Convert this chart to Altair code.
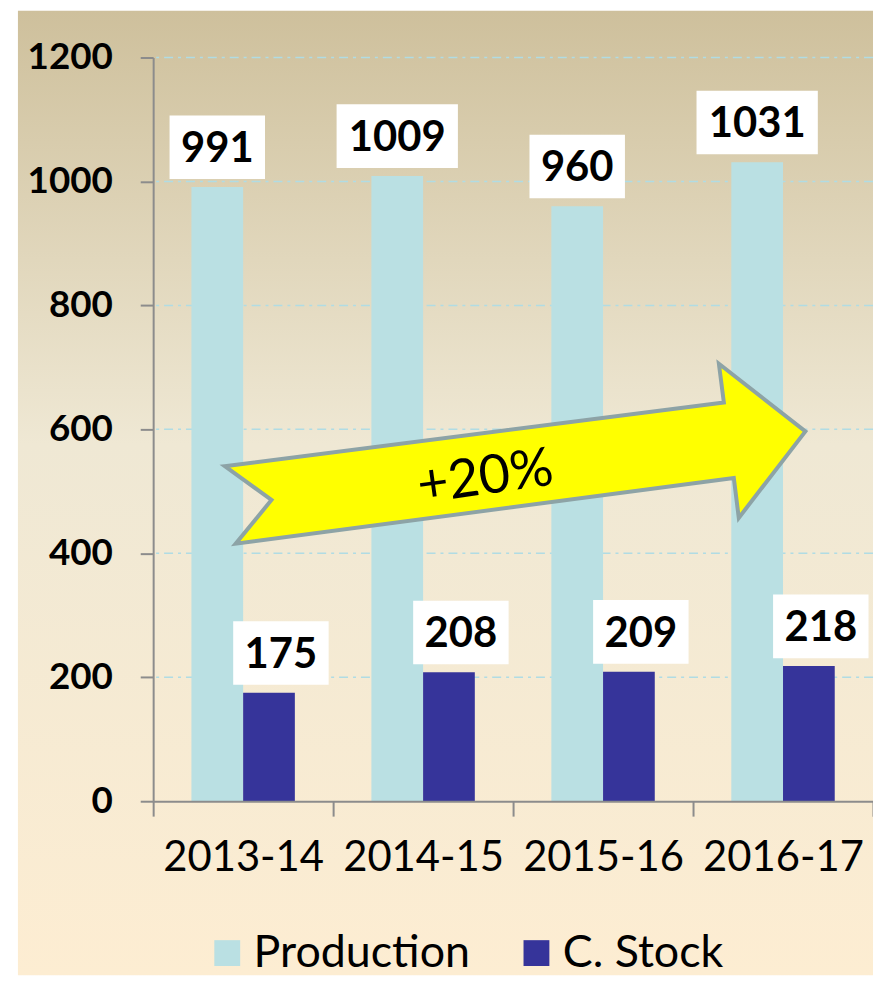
import altair as alt
import pandas as pd

categories = ["2013-14", "2014-15", "2015-16", "2016-17"]
production = [991, 1009, 960, 1031]
c_stock = [175, 208, 209, 218]
series_names = ["Production", "C. Stock"]
series_colors = ["#BAE0E3", "#36349A"]
y_ticks = [0, 200, 400, 600, 800, 1000, 1200]
arrow_label = "+20%"

rows = []
for c, p, s in zip(categories, production, c_stock):
    rows.append({"cat": c, "series": "Production", "value": p})
    rows.append({"cat": c, "series": "C. Stock", "value": s})
df = pd.DataFrame(rows)
df["digits"] = df["value"].astype(str).str.len().astype(str)

W, H = 724, 748
FONT = "Lato"
GRAY = "#8C8C8C"

x_scale = alt.Scale(domain=categories, paddingInner=0, paddingOuter=0)
y_scale = alt.Scale(domain=[0, 1200], nice=False, zero=True)

x_axis = alt.Axis(
    title=None, labelFont=FONT, labelFontSize=42, labelColor="black",
    labelAngle=0, labelPadding=22, labelLimit=400,
    domainColor=GRAY, domainWidth=2, tickColor=GRAY, tickWidth=2,
    tickSize=15, tickBand="extent", grid=False, zindex=1,
)
y_axis = alt.Axis(
    title=None, values=y_ticks, format="d", labelFont=FONT, labelFontSize=37,
    labelFontWeight="bold", labelColor="black", labelPadding=28,
    domainColor=GRAY, domainWidth=2, tickColor=GRAY, tickWidth=2,
    tickSize=13, grid=False, zindex=1,
)

one = pd.DataFrame({"k": [0]})

bg = alt.Chart(one).mark_rect(
    color=alt.Gradient(
        gradient="linear",
        stops=[
            alt.GradientStop(offset=0, color="#CEC09C"),
            alt.GradientStop(offset=0.45, color="#EFE8D4"),
            alt.GradientStop(offset=1, color="#FDEDD2"),
        ],
        x1=0, x2=0, y1=0, y2=1,
    )
).encode(x=alt.value(-136), x2=alt.value(W), y=alt.value(-47), y2=alt.value(H + 175))

grid = alt.Chart(pd.DataFrame({"tick": y_ticks[1:]})).mark_rule(
    color="#B0DCE4", strokeWidth=1.5, strokeDash=[9, 5, 3, 5]
).encode(y=alt.Y("tick:Q", scale=y_scale, axis=y_axis))

bars = alt.Chart(df).mark_bar().encode(
    x=alt.X("cat:N", scale=x_scale, sort=categories, axis=x_axis),
    xOffset=alt.XOffset(
        "series:N", sort=series_names,
        scale=alt.Scale(domain=series_names, paddingInner=0, paddingOuter=0.74),
    ),
    y=alt.Y("value:Q", scale=y_scale, axis=y_axis),
    color=alt.Color(
        "series:N", sort=series_names,
        scale=alt.Scale(domain=series_names, range=series_colors),
        legend=alt.Legend(
            title=None, orient="none", legendX=52, legendY=878,
            direction="horizontal", symbolType="square", symbolSize=676,
            symbolStrokeWidth=0, symbolOpacity=1, labelFont=FONT,
            labelFontSize=45, labelColor="black", labelOffset=4,
            columnPadding=44, labelLimit=400,
        ),
    ),
)

box3 = "M-48,-32H48V32H-48Z"
box4 = "M-61,-32H61V32H-61Z"


def label_layers(series, bandpos, xoff):
    d = alt.Chart(df).transform_filter(alt.datum.series == series)
    enc = dict(
        x=alt.X("cat:N", scale=x_scale, sort=categories, bandPosition=bandpos, axis=x_axis),
        y=alt.Y("value:Q", scale=y_scale, axis=y_axis),
    )
    boxes = d.mark_point(
        filled=True, fill="white", strokeWidth=0, opacity=1, fillOpacity=1,
        size=4, yOffset=-40, xOffset=xoff,
    ).encode(
        shape=alt.Shape("digits:N", scale=alt.Scale(domain=["3", "4"], range=[box3, box4]), legend=None),
        **enc,
    )
    texts = d.mark_text(
        font=FONT, fontSize=42, fontWeight="bold", color="black",
        align="center", baseline="middle", yOffset=-38, xOffset=xoff,
    ).encode(text="value:Q", **enc)
    return [boxes, texts]


arrow_path = "M-262,-12L240,-76L235,-115L322,-47L255,40L250,0L-251,66L-215,22Z"
arrow = alt.Chart(one).mark_point(
    shape=arrow_path, size=4, filled=True, fill="#FFFF00", stroke="#8DA3A6",
    strokeWidth=4, opacity=1, fillOpacity=1, strokeOpacity=1, strokeJoin="miter",
).encode(x=alt.value(334), y=alt.value(423))

arrow_text = alt.Chart(one).mark_text(
    text=arrow_label, font=FONT, fontSize=54, angle=352, color="black",
    align="center", baseline="middle",
).encode(x=alt.value(334), y=alt.value(423))

layers = [bg, grid, bars, arrow, arrow_text]
layers += label_layers("Production", 64.5 / 181, 0)
layers += label_layers("C. Stock", 116.5 / 181, 12)

chart = alt.layer(*layers).properties(
    width=W, height=H,
    autosize="none",
    padding={"left": 146, "top": 47, "right": 0, "bottom": 175},
    background="white",
).configure_view(stroke=None)

chart.save("out.html", embed_options={"renderer": "svg", "actions": False})
